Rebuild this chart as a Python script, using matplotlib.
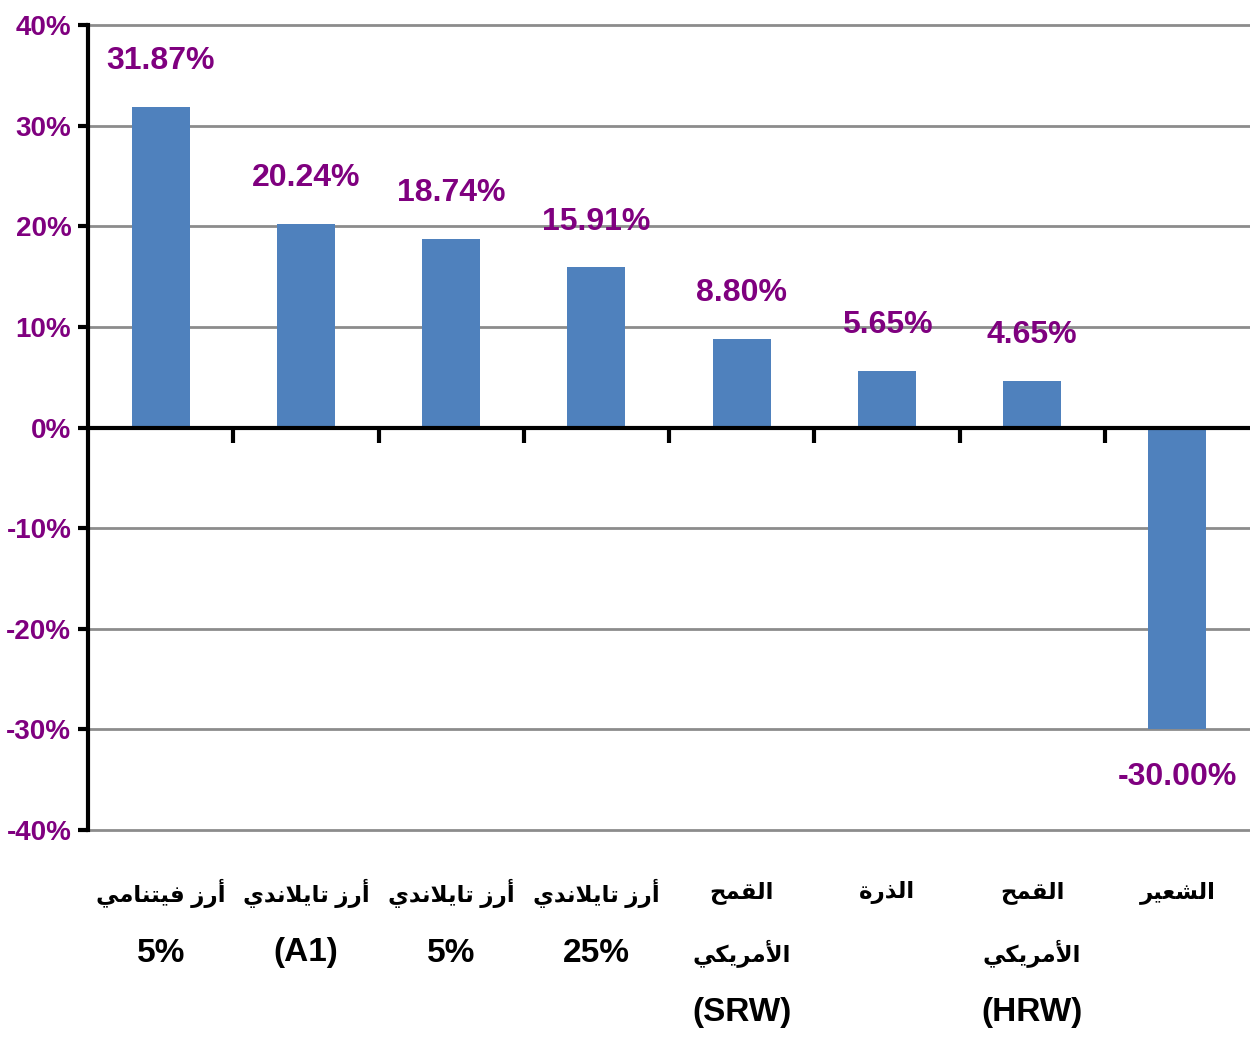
import matplotlib
matplotlib.use("Agg")
import matplotlib.pyplot as plt
import matplotlib.transforms as mtransforms
import numpy as np

# --- data ---
CATEGORIES = [
    ["أرز فيتنامي", "5%"],
    ["أرز تايلاندي", "(A1)"],
    ["أرز تايلاندي", "5%"],
    ["أرز تايلاندي", "25%"],
    ["القمح", "الأمريكي", "(SRW)"],
    ["الذرة"],
    ["القمح", "الأمريكي", "(HRW)"],
    ["الشعير"],
]
VALUES = [31.87, 20.24, 18.74, 15.91, 8.80, 5.65, 4.65, -30.00]
Y_TICKS = [-40, -30, -20, -10, 0, 10, 20, 30, 40]

BAR_COLOR = "#4F81BD"
PURPLE = "#7F007F"
FONT = ["Liberation Sans", "DejaVu Sans"]

# --- minimal arabic shaping (matplotlib draws glyphs left-to-right without joining) ---
# letter: (isolated, final, initial, medial)
FORMS = {
    "ا": ("\uFE8D", "\uFE8E", None, None),
    "أ": ("\uFE83", "\uFE84", None, None),
    "ر": ("\uFEAD", "\uFEAE", None, None),
    "ز": ("\uFEAF", "\uFEB0", None, None),
    "د": ("\uFEA9", "\uFEAA", None, None),
    "ذ": ("\uFEAB", "\uFEAC", None, None),
    "ة": ("\uFE93", "\uFE94", None, None),
    "ف": ("\uFED1", "\uFED2", "\uFED3", "\uFED4"),
    "ي": ("\uFEF1", "\uFEF2", "\uFEF3", "\uFEF4"),
    "ت": ("\uFE95", "\uFE96", "\uFE97", "\uFE98"),
    "ن": ("\uFEE5", "\uFEE6", "\uFEE7", "\uFEE8"),
    "م": ("\uFEE1", "\uFEE2", "\uFEE3", "\uFEE4"),
    "ل": ("\uFEDD", "\uFEDE", "\uFEDF", "\uFEE0"),
    "ق": ("\uFED5", "\uFED6", "\uFED7", "\uFED8"),
    "ح": ("\uFEA1", "\uFEA2", "\uFEA3", "\uFEA4"),
    "ك": ("\uFED9", "\uFEDA", "\uFEDB", "\uFEDC"),
    "ش": ("\uFEB5", "\uFEB6", "\uFEB7", "\uFEB8"),
    "ع": ("\uFEC9", "\uFECA", "\uFECB", "\uFECC"),
}
LAM_ALEF = {"ا": ("\uFEFB", "\uFEFC"), "أ": ("\uFEF7", "\uFEF8")}


def shape_word(word):
    if not any(c in FORMS for c in word):
        return word
    out, prev_joins, i = [], False, 0
    while i < len(word):
        c = word[i]
        if c == "ل" and i + 1 < len(word) and word[i + 1] in LAM_ALEF:
            iso, fin = LAM_ALEF[word[i + 1]]
            out.append(fin if prev_joins else iso)
            prev_joins = False
            i += 2
            continue
        if c not in FORMS:
            out.append(c); prev_joins = False; i += 1
            continue
        iso, fin, ini, med = FORMS[c]
        dual = ini is not None
        nxt = word[i + 1] if i + 1 < len(word) else None
        next_joins = dual and nxt in FORMS
        if prev_joins and next_joins:
            f = med
        elif prev_joins:
            f = fin
        elif next_joins:
            f = ini
        else:
            f = iso
        out.append(f)
        prev_joins = dual
        i += 1
    return "".join(reversed(out))


def shape_line(line):
    words = line.split()
    if any(c in FORMS for c in line):
        words = words[::-1]
    return " ".join(shape_word(w) for w in words)


W, H = 1250, 1037
fig = plt.figure(figsize=(W / 100, H / 100), dpi=100)
ax = fig.add_axes([88 / W, 1 - 830 / H, (1250 - 88) / W, (830 - 25) / H])

x = np.arange(len(VALUES))
ax.bar(x, VALUES, width=0.4, color=BAR_COLOR, zorder=3)

ax.set_xlim(-0.5, len(VALUES) - 0.5)
ax.set_ylim(-40, 40)

# grid
for v in Y_TICKS:
    if v != 0:
        ax.axhline(v, color="#8C8C8C", lw=2, zorder=1, clip_on=False)
ax.axhline(0, color="black", lw=3, zorder=4)

for s in ["top", "right", "bottom"]:
    ax.spines[s].set_visible(False)
ax.spines["left"].set_linewidth(3)
ax.spines["left"].set_zorder(5)

ax.set_yticks(Y_TICKS)
ax.set_yticklabels([f"{v}%" for v in Y_TICKS])
ax.tick_params(axis="y", length=7, width=3, pad=5, labelcolor=PURPLE, labelsize=20)
for lbl in ax.get_yticklabels():
    lbl.set_family(FONT)
    lbl.set_fontweight("bold")

# x ticks at category boundaries, hanging from the zero line
ax.set_xticks([])
bounds = np.arange(0.5, len(VALUES) - 0.5, 1.0)
for b in bounds:
    ax.plot([b], [0], marker=3, markersize=11, mew=3, color="black",
            zorder=4, clip_on=False)

# value labels
for xi, v in zip(x, VALUES):
    off = 33 if v >= 0 else -34
    ax.annotate(f"{v:.2f}%", (xi, v), xytext=(0, off), textcoords="offset points",
                ha="center", va="center", color=PURPLE, fontsize=23,
                fontweight="bold", family=FONT)

# category labels below the plot
line_y = [893, 953, 1012]
tr = mtransforms.blended_transform_factory(ax.transData, fig.transFigure)
for xi, lines in zip(x, CATEGORIES):
    for k, line in enumerate(lines):
        arabic = any(c in FORMS for c in line)
        ax.text(xi, 1 - line_y[k] / H, shape_line(line), transform=tr,
                ha="center", va="center", fontsize=16.5 if arabic else 24,
                fontweight="bold", family=FONT, color="black")

fig.savefig("out.png", dpi=100)
